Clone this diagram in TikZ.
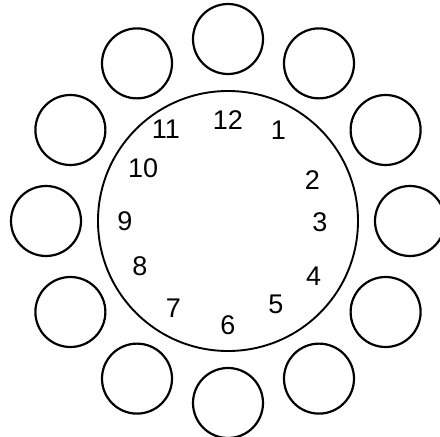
\documentclass[tikz,border=0pt]{standalone}
\usepackage{fontspec}
\setsansfont{Liberation Sans}
\usetikzlibrary{positioning, calc}

\begin{document}
\begin{tikzpicture}[
    x=1pt,
    y=1pt,
    face/.style={
        draw,
        circle,
        line width=1.9pt,
        minimum size=260pt,
        inner sep=0pt,
    },
    slot/.style={
        draw,
        circle,
        line width=2.2pt,
        minimum size=70pt,
        inner sep=0pt,
    },
    hour/.style={
        inner sep=0pt,
        font=\sffamily\fontsize{27}{27}\selectfont,
    },
]
    \useasboundingbox (-228,-216) rectangle (212,221);

    \node[face] (face) at (0,0) {};

    % outer ring of circles
    \foreach \h in {1,...,12}
        \node[slot] (slot\h) at ($(face.center)+(90-30*\h:182)$) {};

    % hour numbers
    \foreach \h/\a/\r in {12/90/101, 1/61/104, 2/26/94, 3/-1/92, 4/-33/102, 5/-60/96,
                          6/-90/104, 7/-122/103, 8/-153/99, 9/180/103, 10/148/100, 11/124/111}
        \node[hour] (num\h) at ($(face.center)+(\a:\r)$) {\h};

\end{tikzpicture}
\end{document}
